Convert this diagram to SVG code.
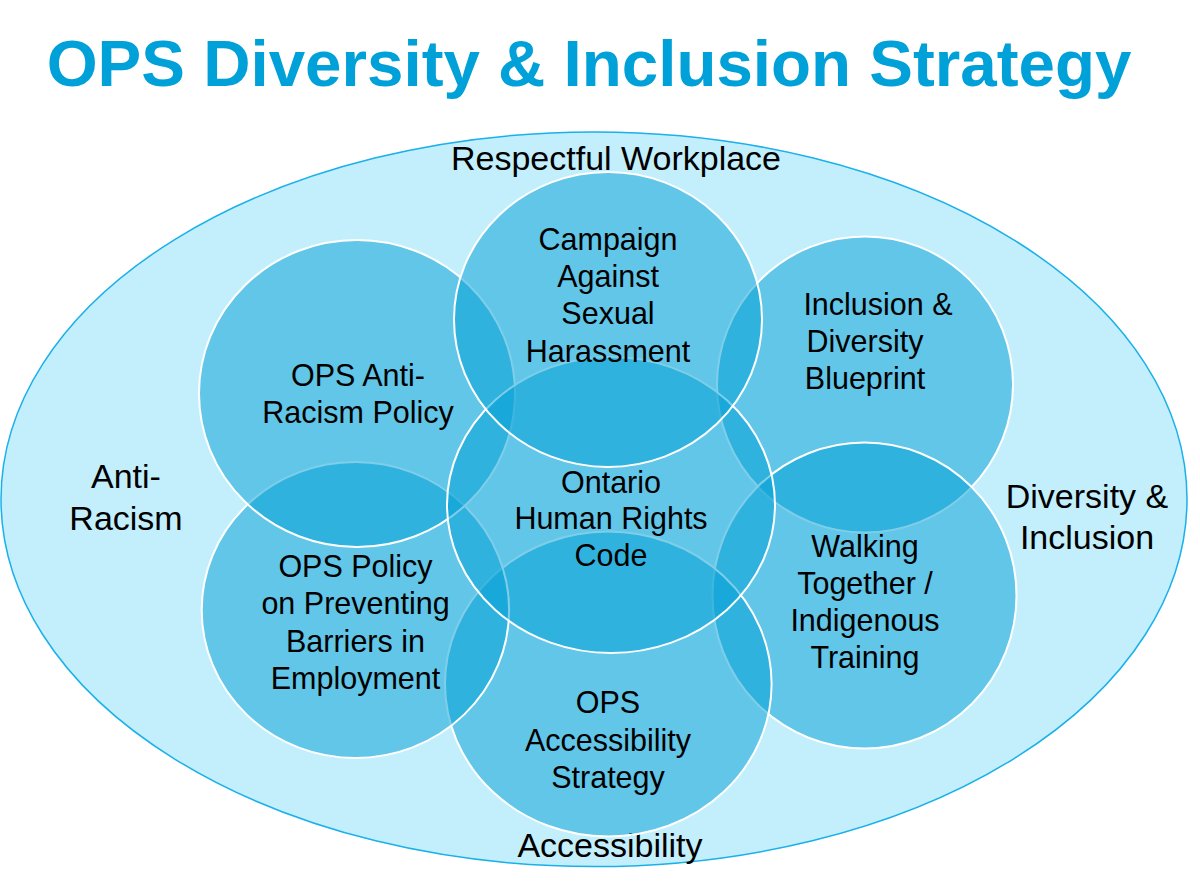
<svg xmlns="http://www.w3.org/2000/svg" width="1200" height="887" viewBox="0 0 1200 887">
<style>
.circ{fill:#009dd3;fill-opacity:0.5;stroke:#ffffff;stroke-width:2}
.in{font-family:"Liberation Sans",Arial,sans-serif;font-size:30.5px;fill:#000;text-anchor:middle}
.out{font-family:"Liberation Sans",Arial,sans-serif;font-size:34px;fill:#000;text-anchor:middle}
</style>
<rect x="0" y="0" width="1200" height="887" fill="#ffffff"/>
<text id="title" x="589" y="86" font-family="'Liberation Sans',Arial,sans-serif" font-size="65.5" font-weight="bold" fill="#00a0d8" text-anchor="middle">OPS Diversity &amp; Inclusion Strategy</text>
<g id="outer">
<ellipse cx="594" cy="499.3" rx="593" ry="367.3" fill="#c3effd" stroke="#1ab0ea" stroke-width="1.5"/>
<text class="out" x="616" y="170">Respectful Workplace</text>
<text class="out" x="126" y="488">Anti-</text>
<text class="out" x="126" y="530">Racism</text>
<text class="out" x="1087" y="508">Diversity &amp;</text>
<text class="out" x="1087" y="549">Inclusion</text>
<text class="out" x="610" y="857">Accessibility</text>
</g>
<g id="inclusion-blueprint">
<ellipse class="circ" cx="865" cy="384.5" rx="148" ry="148"/>
<text class="in" x="878" y="315">Inclusion &amp;</text>
<text class="in" x="865" y="352">Diversity</text>
<text class="in" x="865" y="389">Blueprint</text>
</g>
<g id="walking-together">
<ellipse class="circ" cx="864.5" cy="595.5" rx="152" ry="153"/>
<text class="in" x="865" y="557">Walking</text>
<text class="in" x="865" y="594">Together /</text>
<text class="in" x="865" y="631">Indigenous</text>
<text class="in" x="865" y="668">Training</text>
</g>
<g id="accessibility-strategy">
<ellipse class="circ" cx="608.3" cy="684" rx="163.3" ry="152.5"/>
<text class="in" x="608" y="713">OPS</text>
<text class="in" x="608" y="751">Accessibility</text>
<text class="in" x="608" y="788">Strategy</text>
</g>
<g id="preventing-barriers">
<ellipse class="circ" cx="355.4" cy="610" rx="153.7" ry="148"/>
<text class="in" x="355.5" y="577">OPS Policy</text>
<text class="in" x="355.5" y="614">on Preventing</text>
<text class="in" x="355.5" y="652">Barriers in</text>
<text class="in" x="355.5" y="689">Employment</text>
</g>
<g id="anti-racism-policy">
<ellipse class="circ" cx="357" cy="393.5" rx="158" ry="153.5"/>
<text class="in" x="358" y="386">OPS Anti-</text>
<text class="in" x="358" y="423">Racism Policy</text>
</g>
<g id="human-rights-code">
<ellipse class="circ" cx="611" cy="505" rx="164" ry="148"/>
<text class="in" x="611" y="493">Ontario</text>
<text class="in" x="611" y="529">Human Rights</text>
<text class="in" x="611" y="566">Code</text>
</g>
<g id="sexual-harassment">
<ellipse class="circ" cx="608" cy="319.5" rx="154" ry="147.5"/>
<text class="in" x="608" y="250">Campaign</text>
<text class="in" x="608" y="287">Against</text>
<text class="in" x="608" y="324">Sexual</text>
<text class="in" x="608" y="362">Harassment</text>
</g>
</svg>
